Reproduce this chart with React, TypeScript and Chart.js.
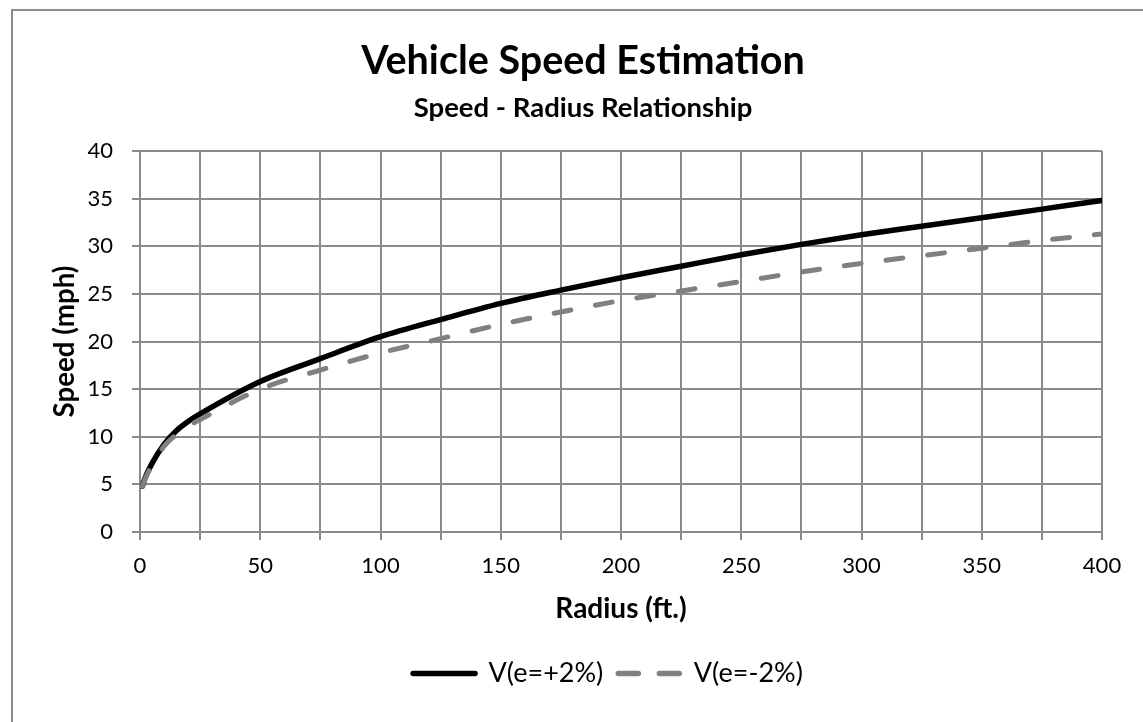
import React, { useEffect, useRef } from "react";
import { Chart, registerables } from "chart.js";

Chart.register(...registerables);

// ---- data ----
const radiusFt = [1, 2, 5, 10, 15, 20, 25, 50, 75, 100, 125, 150, 175, 200, 225, 250, 275, 300, 325, 350, 375, 400];
const speedPlus2 = [4.8, 5.6, 7.2, 9.2, 10.6, 11.6, 12.4, 15.8, 18.2, 20.5, 22.3, 24.0, 25.4, 26.7, 27.9, 29.1, 30.2, 31.2, 32.1, 33.0, 33.9, 34.8];
const speedMinus2 = [4.8, 5.5, 7.0, 9.0, 10.2, 11.1, 11.8, 15.0, 17.0, 18.8, 20.3, 21.8, 23.1, 24.3, 25.3, 26.3, 27.3, 28.2, 29.0, 29.8, 30.6, 31.3];
const seriesLabels = ["V(e=+2%)", "V(e=-2%)"];
const xLabelTicks = [0, 50, 100, 150, 200, 250, 300, 350, 400];
const yLabelTicks = [0, 5, 10, 15, 20, 25, 30, 35, 40];

const TITLE = "Vehicle Speed Estimation";
const SUBTITLE = "Speed - Radius Relationship";
const X_TITLE = "Radius (ft.)";
const Y_TITLE = "Speed (mph)";

const FONT = "Lato";
const GRID = "#8a8a8a";

const decorPlugin = {
  id: "decor",
  afterLayout(chart: any) {
    const moveTo = (box: any, center: number) => {
      if (!box) return;
      const d = center - (box.left + box.right) / 2;
      box.left += d;
      box.right += d;
    };
    moveTo(chart.titleBlock, 583);
    const sub = (chart.boxes || []).find(
      (b: any) => b !== chart.titleBlock && b.options && b.options.text === SUBTITLE
    );
    moveTo(sub, 583);
    moveTo(chart.legend, 608);
  },
  beforeDraw(chart: any) {
    const ctx = chart.ctx;
    ctx.save();
    ctx.fillStyle = "#ffffff";
    ctx.fillRect(0, 0, chart.width, chart.height);
    ctx.strokeStyle = "#8c8c8c";
    ctx.lineWidth = 2;
    ctx.strokeRect(12, 10, 3000, 3000);
    ctx.restore();
  },
};

export default function App() {
  const ref = useRef<HTMLCanvasElement>(null);

  useEffect(() => {
    if (!ref.current) return;
    const chart = new Chart(ref.current, {
      type: "line",
      data: {
        datasets: [
          {
            label: seriesLabels[0],
            data: radiusFt.map((r, i) => ({ x: r, y: speedPlus2[i] })),
            borderColor: "#000000",
            backgroundColor: "#000000",
            borderWidth: 5.5,
            borderCapStyle: "round",
            pointRadius: 0,
            cubicInterpolationMode: "monotone",
            order: 1,
          },
          {
            label: seriesLabels[1],
            data: radiusFt.map((r, i) => ({ x: r, y: speedMinus2[i] })),
            borderColor: "#808080",
            backgroundColor: "#808080",
            borderWidth: 5,
            borderDash: [17, 25],
            borderCapStyle: "round",
            pointRadius: 0,
            cubicInterpolationMode: "monotone",
            order: 0,
          },
        ],
      },
      options: {
        responsive: false,
        animation: false,
        events: [],
        layout: { padding: { left: 0, right: 41, top: 0, bottom: 25 } },
        plugins: {
          title: {
            display: true,
            text: TITLE,
            color: "#000",
            font: { family: FONT, size: 39.5, weight: "bold" },
            padding: { top: 37.3, bottom: 0 },
          },
          subtitle: {
            display: true,
            text: SUBTITLE,
            color: "#000",
            font: { family: FONT, size: 27.5, weight: "bold" },
            padding: { top: 7.2, bottom: 26.1 },
          },
          legend: {
            position: "bottom",
            labels: {
              usePointStyle: true,
              pointStyle: "line",
              pointStyleWidth: 62,
              color: "#000",
              font: { family: FONT, size: 27 },
              padding: 15,
              sort: (a: any, b: any) => a.datasetIndex - b.datasetIndex,
              generateLabels: (chart: any) => {
                const items = (Chart.defaults as any).plugins.legend.labels.generateLabels(chart);
                items.forEach((it: any) => {
                  it.lineCap = "round";
                  it.lineWidth = 5.5;
                  if (it.datasetIndex === 1) it.lineDash = [20, 21];
                  else it.lineDash = [];
                });
                return items;
              },
            },
          },
          tooltip: { enabled: false },
        },
        scales: {
          x: {
            type: "linear",
            min: 0,
            max: 400,
            afterFit: (s: any) => {
              s.height = 113;
            },
            ticks: {
              stepSize: 25,
              autoSkip: false,
              maxRotation: 0,
              padding: 13,
              color: "#000",
              font: { family: FONT, size: 22 },
              callback: (v: any) => (xLabelTicks.includes(Number(v)) ? String(v) : ""),
            },
            grid: { color: GRID, lineWidth: 2, tickLength: 8, drawTicks: true },
            border: { color: GRID, width: 2 },
            title: {
              display: true,
              text: X_TITLE,
              color: "#000",
              font: { family: FONT, size: 28, weight: "bold" },
              padding: { top: 8, bottom: 19.2 },
            },
          },
          y: {
            type: "linear",
            min: 0,
            max: 40,
            afterFit: (s: any) => {
              s.width = 140;
            },
            ticks: {
              stepSize: 5,
              padding: 19,
              color: "#000",
              font: { family: FONT, size: 22 },
              callback: (v: any) => (yLabelTicks.includes(Number(v)) ? String(v) : ""),
            },
            grid: { color: GRID, lineWidth: 2, tickLength: 8, drawTicks: true },
            border: { color: GRID, width: 2 },
            title: {
              display: true,
              text: Y_TITLE,
              color: "#000",
              font: { family: FONT, size: 27.7, weight: "bold" },
              padding: { top: 48.4, bottom: 0 },
            },
          },
        },
      } as any,
      plugins: [decorPlugin],
    });
    return () => chart.destroy();
  }, []);

  return (
    <div
      style={{
        position: "fixed",
        left: 0,
        top: 0,
        width: 1143,
        height: 722,
        overflow: "hidden",
        background: "#fff",
      }}
    >
      <canvas ref={ref} width={1143} height={722} style={{ display: "block" }} />
    </div>
  );
}
